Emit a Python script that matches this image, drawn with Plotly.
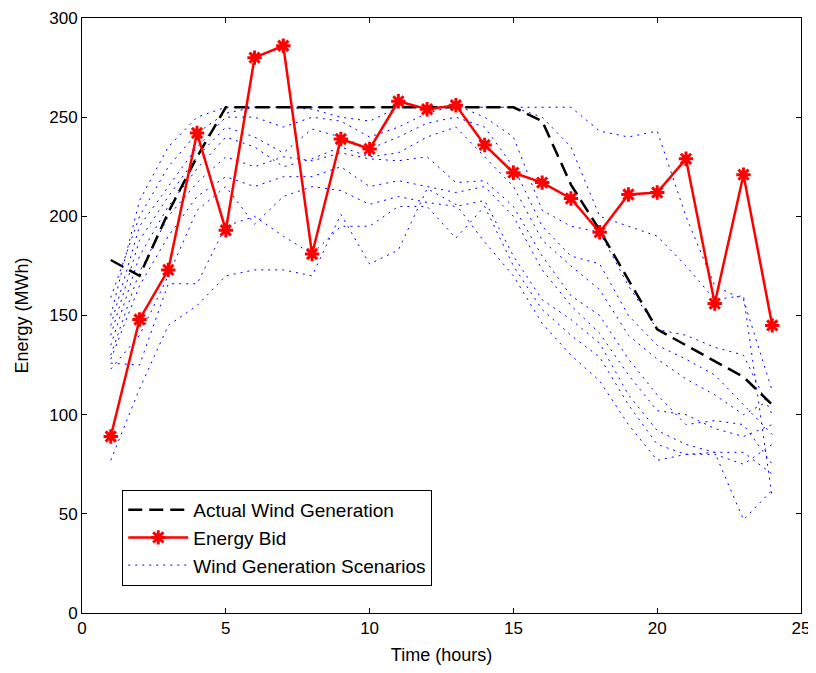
import plotly.graph_objects as go

hours = list(range(1, 25))

actual = [178, 170, 202, 230, 255, 255, 255, 255, 255, 255, 255, 255, 255, 255, 255, 248, 216, 193, 168, 143, 135, 127, 119, 105]

energy_bid = [89, 148, 173, 242, 193, 280, 286, 181, 239, 234, 258, 254, 256, 236, 222, 217, 209, 192, 211, 212, 229, 156, 221, 145]

scen_A = [150, 208, 235, 250, 255, 255, 255, 255, 255, 255, 255, 255, 255, 255, 255, 255, 255, 243, 240, 243, 200, 165, 158, 112]
scen_B = [159, 200, 225, 242, 252, 255, 255, 254, 250, 248, 255, 255, 255, 255, 255, 250, 235, 200, 195, 190, 175, 158, 160, 58]
scen_C = [145, 195, 215, 235, 250, 250, 245, 250, 248, 240, 245, 252, 256, 250, 240, 203, 195, 192, 165, 143, 140, 134, 130, 100]
scen_D = [140, 188, 210, 230, 245, 240, 232, 244, 240, 234, 240, 247, 250, 245, 225, 195, 180, 176, 150, 135, 128, 120, 105, 90]
scen_E = [135, 180, 205, 224, 240, 235, 225, 229, 235, 230, 232, 240, 245, 230, 215, 188, 175, 163, 140, 128, 118, 110, 100, 108]
scen_F = [130, 172, 200, 217, 230, 225, 230, 228, 232, 229, 228, 230, 217, 218, 205, 180, 160, 150, 128, 110, 95, 97, 95, 75]
scen_G = [128, 165, 190, 210, 220, 215, 220, 220, 225, 215, 218, 215, 212, 215, 200, 173, 155, 141, 120, 102, 100, 93, 89, 95]
scen_H = [123, 140, 170, 203, 215, 196, 210, 215, 213, 206, 210, 207, 205, 208, 180, 158, 148, 136, 110, 92, 85, 81, 81, 70]
scen_I = [126, 125, 166, 166, 195, 200, 190, 181, 195, 195, 205, 205, 189, 205, 175, 153, 140, 129, 105, 85, 80, 80, 75, 85]
scen_J = [77, 113, 145, 155, 170, 173, 173, 170, 201, 176, 183, 214, 206, 187, 170, 146, 130, 117, 95, 77, 80, 81, 47, 62]

scenarios = [scen_A, scen_B, scen_C, scen_D, scen_E, scen_F, scen_G, scen_H, scen_I, scen_J]

x_ticks = [0, 5, 10, 15, 20, 25]
y_ticks = [0, 50, 100, 150, 200, 250, 300]

FONT = "Liberation Sans, Arial, sans-serif"

fig = go.Figure()

for i, s in enumerate(scenarios):
    fig.add_trace(go.Scatter(
        x=hours, y=s, mode="lines",
        line=dict(color="#0000ff", width=1, dash="2px,5px"),
        name="Wind Generation Scenarios",
        legendgroup="scen", showlegend=(i == 0), legendrank=3,
        hoverinfo="skip",
    ))

fig.add_trace(go.Scatter(
    x=hours, y=actual, mode="lines",
    line=dict(color="black", width=2.5, dash="14px,7px"),
    name="Actual Wind Generation", legendrank=1,
))

fig.add_trace(go.Scatter(
    x=hours, y=energy_bid, mode="lines+markers",
    line=dict(color="#ff0000", width=2.5),
    marker=dict(symbol="asterisk-open", size=12, color="#ff0000",
                line=dict(color="#ff0000", width=3)),
    name="Energy Bid", legendrank=2,
))

axis_common = dict(
    showline=True, linecolor="black", linewidth=1, mirror="ticks",
    ticks="inside", ticklen=5, tickcolor="black",
    showgrid=False, zeroline=False, automargin=False,
    tickfont=dict(family=FONT, size=17, color="black"),
)

fig.update_xaxes(range=[0, 25], tickvals=x_ticks,
                 title=dict(text="Time (hours)", standoff=10,
                            font=dict(family=FONT, size=18, color="black")),
                 **axis_common)
fig.update_yaxes(range=[0, 300], tickvals=y_ticks,
                 title=dict(text="Energy (MWh)", standoff=15,
                            font=dict(family=FONT, size=18, color="black")),
                 **axis_common)

fig.update_layout(
    width=808, height=657,
    margin=dict(l=74, r=15, t=10, b=52),
    paper_bgcolor="white", plot_bgcolor="white",
    showlegend=True,
    legend=dict(
        x=0.056, y=0.207, xanchor="left", yanchor="top",
        bgcolor="white", bordercolor="black", borderwidth=1,
        font=dict(family=FONT, size=19, color="black"),
        itemwidth=60, tracegroupgap=0,
    ),
)

fig.write_html("out.html")
